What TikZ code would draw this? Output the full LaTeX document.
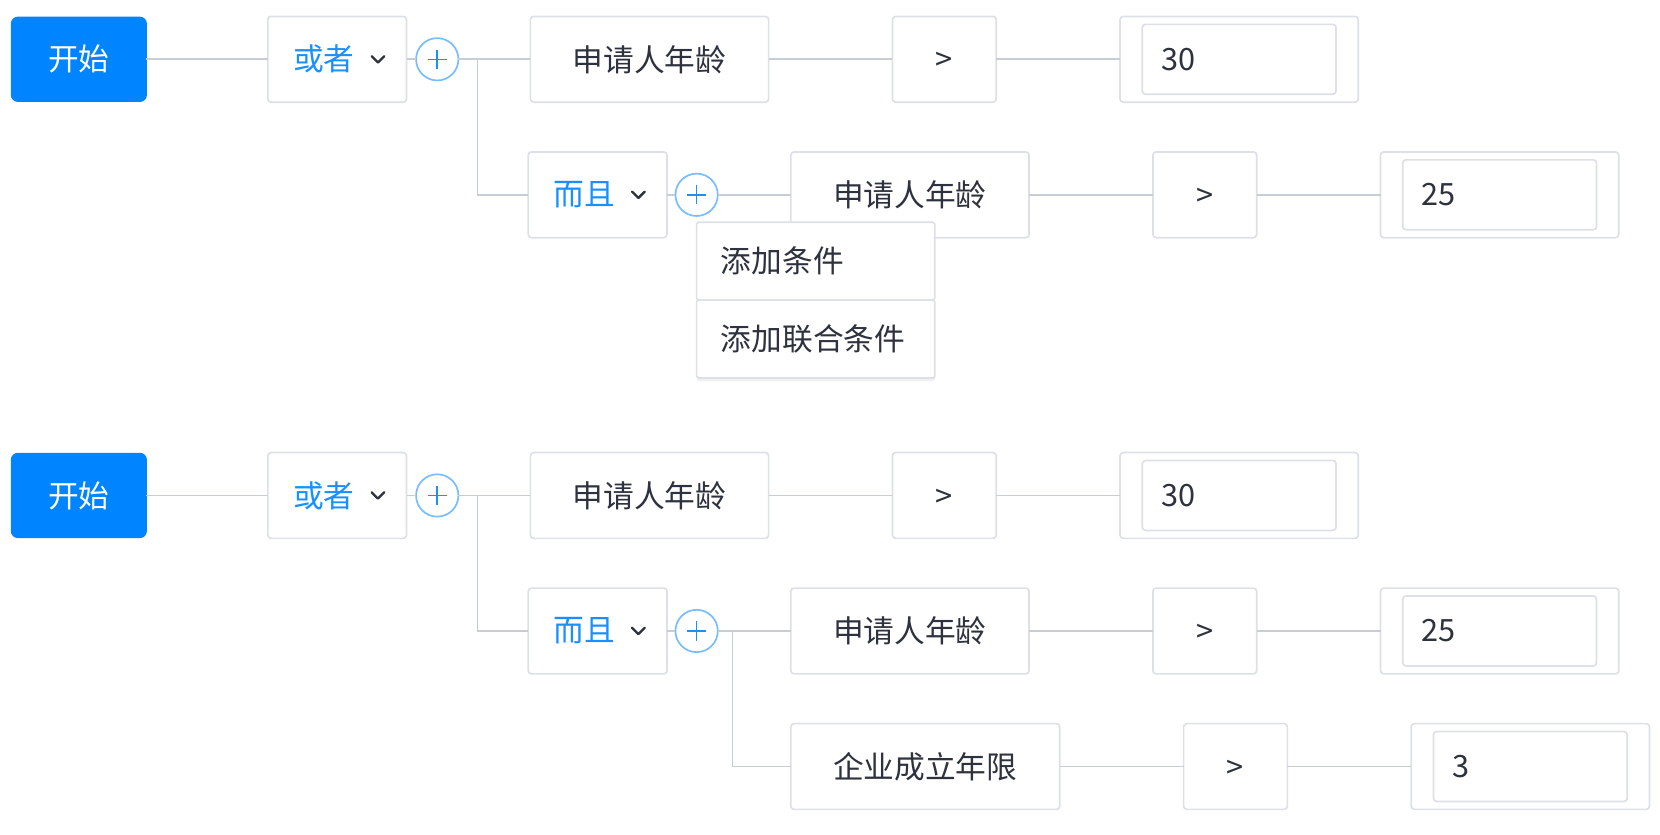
\documentclass[tikz,border=0pt]{standalone}
\usepackage{fontspec}
\setmainfont{Noto Sans CJK SC}
\usepackage{xcolor}
\usetikzlibrary{positioning,shadows}

\definecolor{startblue}{RGB}{0,132,255}
\definecolor{linkblue}{RGB}{24,144,255}
\definecolor{ringblue}{RGB}{120,190,255}
\definecolor{boxgray}{RGB}{221,224,230}
\definecolor{linegray}{RGB}{200,204,212}
\definecolor{textdark}{RGB}{46,50,62}

\newcommand{\opgt}{\vphantom{申}>}

\begin{document}
\begin{tikzpicture}[x=0.5pt, y=-0.5pt,
    base/.style={draw=boxgray, line width=0.8pt, outer sep=0pt, rounded corners=1.5pt, fill=white, text=textdark, minimum height=40.5pt, font=\fontsize{14.5}{17}\selectfont},
    startbox/.style={base, draw=startblue, fill=startblue, text=white, minimum width=63.5pt, minimum height=39.5pt, rounded corners=3pt},
    logic/.style={base, text=linkblue, text width=41.5pt, inner xsep=12pt, align=left},
    plusbtn/.style={circle, draw=ringblue, line width=0.8pt, outer sep=0pt, fill=white, minimum size=20pt, inner sep=0pt,
        path picture={\draw[linkblue, line width=0.7pt]
            ([xshift=-4.5pt]path picture bounding box.center) -- ([xshift=4.5pt]path picture bounding box.center)
            ([yshift=-4.5pt]path picture bounding box.center) -- ([yshift=4.5pt]path picture bounding box.center);}},
    field/.style={base, inner xsep=20pt},
    opbox/.style={base, minimum width=49pt},
    valbox/.style={base, minimum width=112.5pt},
    valinner/.style={base, minimum height=33pt, text width=73.5pt, inner xsep=9pt, align=left},
    menuitem/.style={base, rounded corners=0.8pt, minimum height=36.75pt, text width=89.5pt, inner xsep=11.5pt, align=left,
        drop shadow={opacity=0.12, shadow xshift=0pt, shadow yshift=-1.5pt}},
    link/.style={draw=linegray, line width=0.75pt},
    chev/.style={draw=textdark, line width=1.1pt, line cap=round, line join=round}]

    \useasboundingbox (0,0) rectangle (1568,788);

    % first rule
    \node (start1) [startbox] at (74.5,56) {开始};
    \node (or1) [logic, right=57.5pt of start1] {或者};
    \node (plus1) [plusbtn, right=4.5pt of or1] {};
    \node (age1) [field, right=34pt of plus1] {申请人年龄};
    \node (op1) [opbox, right=58.5pt of age1] {\opgt};
    \node (val1) [valbox, right=58.5pt of op1] {};
    \node (val1_in) [valinner] at (val1) {30};

    \node (and1) [logic, below=23.5pt of age1.south west, anchor=north west, xshift=-1pt] {而且};
    \node (plus2) [plusbtn, right=4pt of and1] {};
    \node (age2) [field, right=34.5pt of plus2] {申请人年龄};
    \node (op2) [opbox, right=58.5pt of age2] {\opgt};
    \node (val2) [valbox, right=58.5pt of op2] {};
    \node (val2_in) [valinner] at (val2) {25};

    \coordinate (br1) at ([xshift=9pt]plus1.east);

    \draw[link] (start1) -- (or1);
    \draw[link] (or1) -- (plus1);
    \draw[link] (plus1) -- (age1);
    \draw[link] (br1) |- (and1);
    \draw[link] (and1) -- (plus2);
    \draw[link] (plus2) -- (age2);
    \draw[link] (age1) -- (op1);
    \draw[link] (op1) -- (val1);
    \draw[link] (age2) -- (op2);
    \draw[link] (op2) -- (val2);

    \draw[chev] ([xshift=-16.5pt, yshift=1.5pt]or1.east) -- ++(3pt,-3pt) -- ++(3pt,3pt);
    \draw[chev] ([xshift=-16.5pt, yshift=1.5pt]and1.east) -- ++(3pt,-3pt) -- ++(3pt,3pt);

    \node (menu1) [menuitem, below=3pt of plus2.south, anchor=north west] {添加条件};
    \node (menu2) [menuitem, below=0pt of menu1] {添加联合条件};

    % second rule
    \node (start2) [startbox] at (74.5,468) {开始};
    \node (or2) [logic, right=57.5pt of start2] {或者};
    \node (plus3) [plusbtn, right=4.5pt of or2] {};
    \node (age3) [field, right=34pt of plus3] {申请人年龄};
    \node (op3) [opbox, right=58.5pt of age3] {\opgt};
    \node (val3) [valbox, right=58.5pt of op3] {};
    \node (val3_in) [valinner] at (val3) {30};

    \node (and2) [logic, below=23.5pt of age3.south west, anchor=north west, xshift=-1pt] {而且};
    \node (plus4) [plusbtn, right=4pt of and2] {};
    \node (age4) [field, right=34.5pt of plus4] {申请人年龄};
    \node (op4) [opbox, right=58.5pt of age4] {\opgt};
    \node (val4) [valbox, right=58.5pt of op4] {};
    \node (val4_in) [valinner] at (val4) {25};

    \node (years) [field, below=23.5pt of age4.south west, anchor=north west] {企业成立年限};
    \node (op5) [opbox, right=58.5pt of years] {\opgt};
    \node (val5) [valbox, right=58.5pt of op5] {};
    \node (val5_in) [valinner] at (val5) {3};

    \coordinate (br2) at ([xshift=9pt]plus3.east);
    \coordinate (br3) at ([xshift=7pt]plus4.east);

    \draw[link] (start2) -- (or2);
    \draw[link] (or2) -- (plus3);
    \draw[link] (plus3) -- (age3);
    \draw[link] (br2) |- (and2);
    \draw[link] (and2) -- (plus4);
    \draw[link] (plus4) -- (age4);
    \draw[link] (br3) |- (years);
    \draw[link] (age3) -- (op3);
    \draw[link] (op3) -- (val3);
    \draw[link] (age4) -- (op4);
    \draw[link] (op4) -- (val4);
    \draw[link] (years) -- (op5);
    \draw[link] (op5) -- (val5);

    \draw[chev] ([xshift=-16.5pt, yshift=1.5pt]or2.east) -- ++(3pt,-3pt) -- ++(3pt,3pt);
    \draw[chev] ([xshift=-16.5pt, yshift=1.5pt]and2.east) -- ++(3pt,-3pt) -- ++(3pt,3pt);
\end{tikzpicture}
\end{document}
